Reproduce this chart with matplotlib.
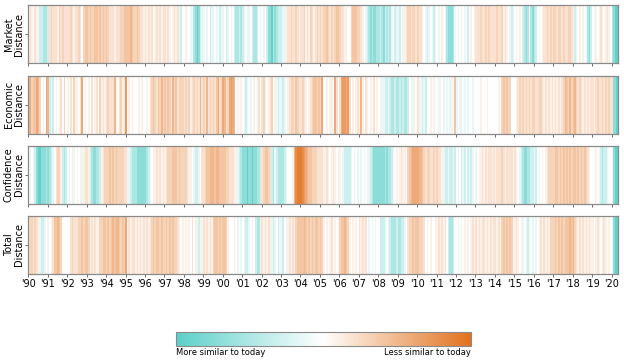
import numpy as np
import matplotlib
matplotlib.use('Agg')
import matplotlib.pyplot as plt
from matplotlib.colors import LinearSegmentedColormap

# monthly readings from Jan 1990, one 12-char string per year
# a..e = teal (a strongest), 0 = white, 1..9 = orange (9 strongest)
market = ["121021eddccc", "d23222132322", "223212232034", "434334434343",
          "432221222334", "444543343221", "212120121212", "212101212ed0",
          "0100e0cbabde", "e0e0dee0e0de", "e0de0e0dccdc", "de0ee0dccd0e",
          "0e0dbbacbcdd", "dee122322321", "223121321232", "323343232344",
          "322110034443", "3210edcbcbbc", "cdcbdcdce0de", "ed0e12332332",
          "32210ede0ede", "0e010ecbbbce", "010e0e0d0101", "222322323222",
          "232231210ede", "01010dcbc0cb", "cd0101223232", "332332322332",
          "1de01010ecbd", "0e1012101210", "cbaa"]
economic = ["563446530106", "5ded01012030", "102031102601", "010201203121",
            "232225102312", "701010001010", "010234324353", "434325342333",
            "232312323252", "325232324623", "652367650101", "0ede0e010120",
            "231012301ede", "ede012332432", "232101234434", "360010110620",
            "267767201012", "151021010201", "01eeddedccdc", "cdcdccd01e10",
            "21eded001010", "0e10e0e0e104", "e0ee0e0e00e0", "000100010000",
            "001034343300", "012323232323", "322332121212", "121212354353",
            "453232121212", "212322323232", "2bba"]
confidence = ["0e0edbaabbbc", "bcde02331dcd", "0e01e0101e12", "21dcbbccd123",
              "334343433332", "21edcccbbbbb", "bcde01121212", "123334443433",
              "332110edde02", "234455545544", "443322211edc", "bbbabbabbccd",
              "234432dcedcc", "ccde00015899", "987654433322", "221121012101",
              "10edddde0e0e", "0e0e0eedcbbb", "bbbbcbccde01", "012110345666",
              "655432332232", "3221eddedded", "0e0ded0dede0", "e01121212212",
              "122232122221", "210edcbbccdd", "ed0e01012333", "344343434343",
              "443434343210", "0010edcdde00", "ebaa"]
total = ["2332321edde0", "101244543000", "002322233434", "431212113344",
         "343454554343", "612122121212", "121234344343", "343434332101",
         "01010201ede1", "212121344343", "443100010e0e", "0edde010dcc1",
         "212121ede0de", "ed0e12121344", "445434343443", "431010120101",
         "344543101010", "212120e0e0e0", "0ddde0edcccd", "ccdde0233434",
         "433320101001", "1212120dccd0", "010e01010121", "212122121212",
         "212134343431", "12101e0ede0e", "0e0121212133", "343434344454",
         "532121212121", "101210121010", "ebaa"]

row_names = ["Market\nDistance", "Economic\nDistance", "Confidence\nDistance", "Total\nDistance"]
years = list(range(1990, 2021))
year_labels = ["'%02d" % (y % 100) for y in years]

levels = {'a': -0.95, 'b': -0.7, 'c': -0.5, 'd': -0.3, 'e': -0.13}
for n in range(10):
    levels[str(n)] = n * 0.1


def decode(rows):
    return np.array([levels[ch] for ch in "".join(rows)])


cmap = LinearSegmentedColormap.from_list("dist", ["#5ccfc8", "#ffffff", "#e2711d"])

fig = plt.figure(figsize=(6.24, 3.61), dpi=100)
tops = [0.985, 0.790, 0.596, 0.402]
h = 0.160
spine_col = '#8a8a8a'

for i, (series, name) in enumerate(zip([market, economic, confidence, total], row_names)):
    vals = decode(series)
    ax = fig.add_axes([0.0454, tops[i] - h, 0.945, h])
    end = 1990 + len(vals) / 12
    ax.imshow(vals[None, :], aspect='auto', cmap=cmap, vmin=-1, vmax=1,
              extent=[1990, end, 0, 1], interpolation='nearest')
    ax.set_xlim(1990, end)
    ax.set_ylim(0, 1)
    ax.set_xticks(years)
    ax.set_yticks([0.5])
    ax.set_yticklabels([''])
    if i == 3:
        ax.set_xticklabels(year_labels, fontsize=7)
    else:
        ax.set_xticklabels([])
    ax.tick_params(length=2.5, width=0.6, color='#555555', pad=1.5)
    ax.set_ylabel(name, fontsize=7, linespacing=1.0)
    ax.yaxis.set_label_coords(-0.008, 0.5)
    for s in ax.spines.values():
        s.set_color(spine_col)
        s.set_linewidth(0.9)

cax = fig.add_axes([0.2815, 0.0416, 0.473, 0.0388])
sm = plt.cm.ScalarMappable(cmap=cmap, norm=plt.Normalize(-1, 1))
cb = fig.colorbar(sm, cax=cax, orientation='horizontal')
cb.set_ticks([])
cb.outline.set_edgecolor(spine_col)
cb.outline.set_linewidth(0.8)
fig.text(0.2815, 0.036, "More similar to today", fontsize=6, ha='left', va='top')
fig.text(0.7545, 0.036, "Less similar to today", fontsize=6, ha='right', va='top')

fig.savefig("out.png", dpi=100)
